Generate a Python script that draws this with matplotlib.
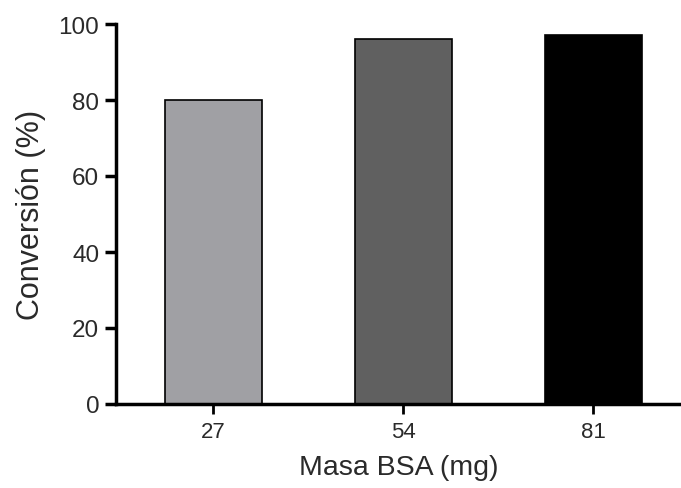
import matplotlib
matplotlib.use("Agg")
import matplotlib.pyplot as plt

categories = ["27", "54", "81"]
values = [80, 96, 97]
colors = ["#a0a0a4", "#606060", "#000000"]
yticks = [0, 20, 40, 60, 80, 100]

plt.rcParams['font.family'] = ['Liberation Sans', 'DejaVu Sans']

fig = plt.figure(figsize=(6.81, 4.89), dpi=100)
ax = fig.add_axes([116/681, 84/489, 565/681, 380/489])

x = list(range(len(categories)))
ax.bar(x, values, width=0.51, color=colors, edgecolor="black", linewidth=1.2, zorder=2)

ax.set_xlim(-0.51, 2.46)
ax.set_ylim(0, 100)
ax.set_yticks(yticks)
ax.set_xticks(x)
ax.set_xticklabels(categories)

for s in ["top", "right"]:
    ax.spines[s].set_visible(False)
for s in ["left", "bottom"]:
    ax.spines[s].set_linewidth(2.5)
    ax.spines[s].set_color("black")

ax.tick_params(axis="y", direction="out", length=8, width=2.5, labelsize=17.5, pad=4, labelcolor="#2a2a2a")
ax.tick_params(axis="x", direction="out", length=7, width=2, labelsize=16, pad=5, labelcolor="#2a2a2a")

ax.set_xlabel("Masa BSA (mg)", fontsize=20.5, color="#2a2a2a", labelpad=9)
ax.set_ylabel("Conversión (%)", fontsize=22, color="#2a2a2a", labelpad=9)

fig.savefig("out.png", dpi=100)
